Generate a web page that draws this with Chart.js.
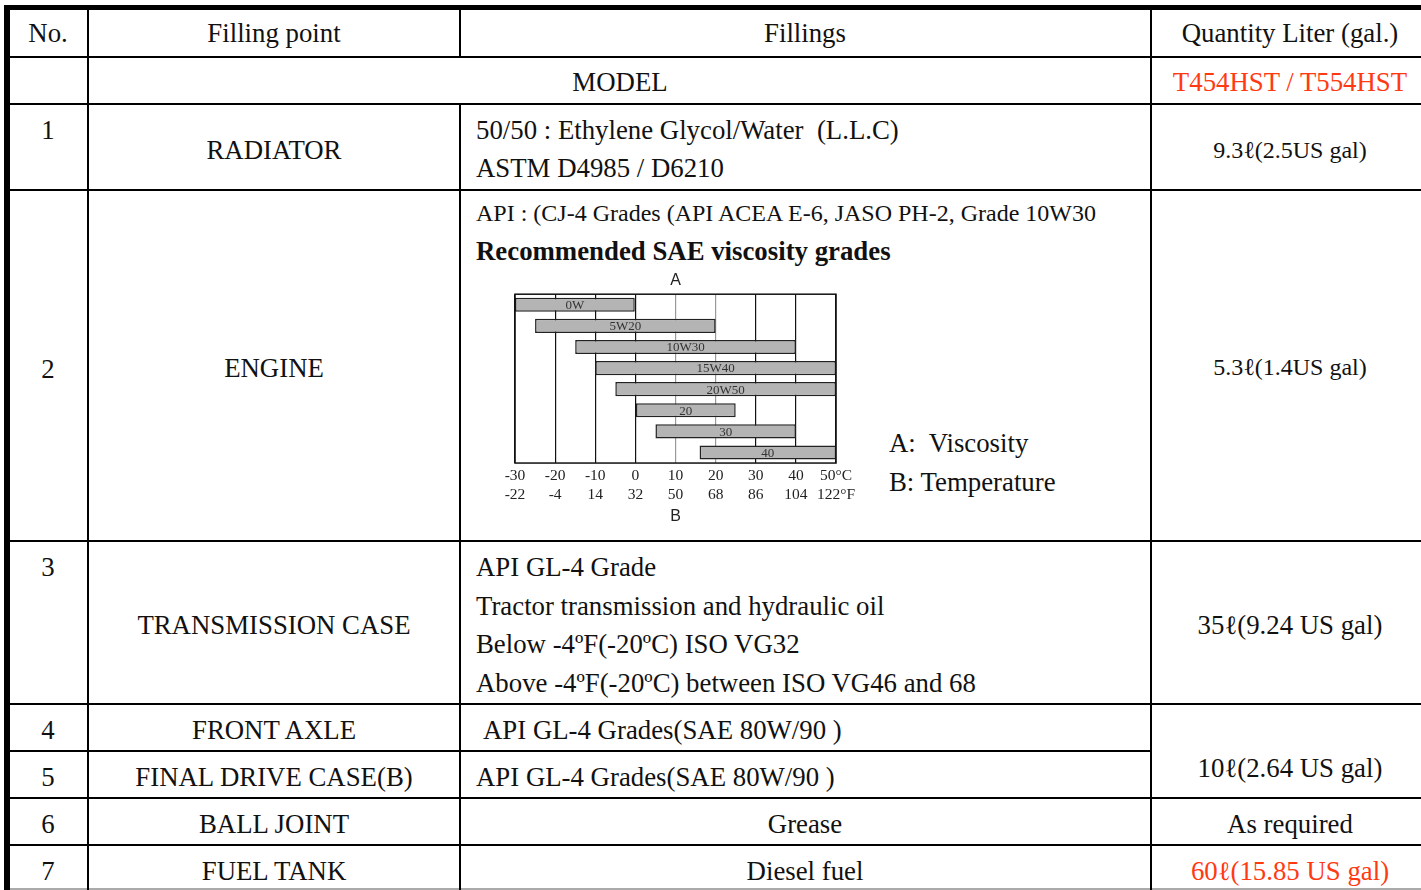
<!DOCTYPE html>
<html>
<head>
<meta charset="utf-8">
<script src="https://cdn.jsdelivr.net/npm/chart.js@4.4.1/dist/chart.umd.min.js"></script>
<style>
  body { margin: 0; background: #fff; width: 1421px; height: 890px; overflow: hidden; position: relative;
         font-family: 'Liberation Serif', 'Times New Roman', serif; color: #111; }
  .ln { position: absolute; background: #000; }
  .t { position: absolute; font-size: 26.8px; line-height: 1; white-space: pre; transform: translate(-50%, -50%); }
  .l { position: absolute; font-size: 26.8px; line-height: 1; white-space: pre; transform: translate(0, -50%); }
  .s { font-size: 24px; }
  .red { color: #ff3a12; }
  .b { font-weight: bold; }
  #box { position: absolute; left: 495px; top: 265px; width: 375px; height: 265px; }
</style>
</head>
<body>
<!-- grid lines of the table -->
<div class="ln" style="left:4px;top:5px;width:1417px;height:5px"></div>
<div class="ln" style="left:4px;top:56px;width:1417px;height:2px"></div>
<div class="ln" style="left:4px;top:103px;width:1417px;height:2px"></div>
<div class="ln" style="left:4px;top:189px;width:1417px;height:2px"></div>
<div class="ln" style="left:4px;top:540px;width:1417px;height:2px"></div>
<div class="ln" style="left:4px;top:703px;width:1417px;height:2px"></div>
<div class="ln" style="left:4px;top:750px;width:1147px;height:2px"></div>
<div class="ln" style="left:4px;top:797px;width:1417px;height:2px"></div>
<div class="ln" style="left:4px;top:844px;width:1417px;height:2px"></div>
<div class="ln" style="left:4px;top:888px;width:1417px;height:2px;background:#aaa"></div>
<div class="ln" style="left:4px;top:5px;width:6px;height:885px"></div>
<div class="ln" style="left:87px;top:5px;width:2px;height:885px"></div>
<div class="ln" style="left:459px;top:5px;width:2px;height:52px"></div>
<div class="ln" style="left:459px;top:104px;width:2px;height:786px"></div>
<div class="ln" style="left:1150px;top:5px;width:2px;height:885px"></div>

<!-- header -->
<div class="t" style="left:48px;top:33px">No.</div>
<div class="t" style="left:274px;top:33px">Filling point</div>
<div class="t" style="left:805px;top:33px">Fillings</div>
<div class="t" style="left:1290px;top:33px">Quantity Liter (gal.)</div>
<div class="t" style="left:620px;top:82px">MODEL</div>
<div class="t red" style="left:1290px;top:82px">T454HST / T554HST</div>

<!-- row 1 -->
<div class="t" style="left:48px;top:130px">1</div>
<div class="t" style="left:274px;top:150px">RADIATOR</div>
<div class="l" style="left:476px;top:130px">50/50 : Ethylene Glycol/Water  (L.L.C)</div>
<div class="l" style="left:476px;top:168px">ASTM D4985 / D6210</div>
<div class="t s" style="left:1290px;top:150px">9.3ℓ(2.5US gal)</div>

<!-- row 2 -->
<div class="t" style="left:48px;top:369px">2</div>
<div class="t" style="left:274px;top:368px">ENGINE</div>
<div class="l s" style="left:476px;top:213px">API : (CJ-4 Grades (API ACEA E-6, JASO PH-2, Grade 10W30</div>
<div class="l b" style="left:476px;top:251px">Recommended SAE viscosity grades</div>
<div id="box"><canvas id="myChart" width="375" height="265"></canvas></div>
<div class="l" style="left:889px;top:443px">A:  Viscosity</div>
<div class="l" style="left:889px;top:482px">B: Temperature</div>
<div class="t s" style="left:1290px;top:367px">5.3ℓ(1.4US gal)</div>

<!-- row 3 -->
<div class="t" style="left:48px;top:567px">3</div>
<div class="t" style="left:274px;top:625px">TRANSMISSION CASE</div>
<div class="l" style="left:476px;top:567px">API GL-4 Grade</div>
<div class="l" style="left:476px;top:606px">Tractor transmission and hydraulic oil</div>
<div class="l" style="left:476px;top:644px">Below -4ºF(-20ºC) ISO VG32</div>
<div class="l" style="left:476px;top:683px">Above -4ºF(-20ºC) between ISO VG46 and 68</div>
<div class="t" style="left:1290px;top:625px">35ℓ(9.24 US gal)</div>

<!-- rows 4 - 7 -->
<div class="t" style="left:48px;top:730px">4</div>
<div class="t" style="left:274px;top:730px">FRONT AXLE</div>
<div class="l" style="left:483px;top:730px">API GL-4 Grades(SAE 80W/90 )</div>
<div class="t" style="left:48px;top:777px">5</div>
<div class="t" style="left:274px;top:777px">FINAL DRIVE CASE(B)</div>
<div class="l" style="left:476px;top:777px">API GL-4 Grades(SAE 80W/90 )</div>
<div class="t" style="left:1290px;top:768px">10ℓ(2.64 US gal)</div>
<div class="t" style="left:48px;top:824px">6</div>
<div class="t" style="left:274px;top:824px">BALL JOINT</div>
<div class="t" style="left:805px;top:824px">Grease</div>
<div class="t" style="left:1290px;top:824px">As required</div>
<div class="t" style="left:48px;top:871px">7</div>
<div class="t" style="left:274px;top:871px">FUEL TANK</div>
<div class="t" style="left:805px;top:871px">Diesel fuel</div>
<div class="t red" style="left:1290px;top:871px">60ℓ(15.85 US gal)</div>

<script>
// SAE grades and their temperature range in °C
const grades = ['0W', '5W20', '10W30', '15W40', '20W50', '20', '30', '40'];
const tempFrom = [-30, -25, -15, -10, -5, 0, 5, 16];
const tempTo = [0, 20, 40, 50, 50, 25, 40, 50];
const celsiusLabels = ['-30', '-20', '-10', '0', '10', '20', '30', '40', '50°C'];
const fahrenheitLabels = ['-22', '-4', '14', '32', '50', '68', '86', '104', '122°F'];

const barLabels = {
    id: 'barLabels',
    afterDatasetsDraw(chart) {
        const c = chart.ctx;
        c.save();
        c.font = '13px "Liberation Serif"';
        c.fillStyle = '#333';
        c.textAlign = 'center';
        c.textBaseline = 'middle';
        chart.getDatasetMeta(0).data.forEach((bar, i) => {
            c.fillText(grades[i], (bar.x + bar.base) / 2, bar.y + 1);
        });
        c.restore();
    }
};

const frame = {
    id: 'frame',
    afterDraw(chart) {
        const a = chart.chartArea;
        const c = chart.ctx;
        c.save();
        c.strokeStyle = '#111';
        c.lineWidth = 1.5;
        c.strokeRect(a.left, a.top, a.right - a.left, a.bottom - a.top);
        c.restore();
    }
};

function CreateChart() {
    const ctx = document.getElementById('myChart');
    new Chart(ctx, {
        type: 'bar',
        data: {
            labels: grades,
            datasets: [{
                data: grades.map((g, i) => [tempFrom[i], tempTo[i]]),
                backgroundColor: '#b4b4b4',
                borderColor: '#222',
                borderWidth: 1.5,
                borderSkipped: false,
                barPercentage: 0.67,
                categoryPercentage: 1
            }]
        },
        options: {
            indexAxis: 'y',
            responsive: false,
            animation: false,
            layout: { padding: { left: 20, right: 34, top: 0, bottom: 0 } },
            scales: {
                x: {
                    min: -30,
                    max: 50,
                    ticks: {
                        stepSize: 10,
                        padding: 3,
                        autoSkip: false,
                        maxRotation: 0,
                        minRotation: 0,
                        color: '#222',
                        font: { family: 'Liberation Serif', size: 15.5, lineHeight: 1.25 },
                        callback: (v, i) => [celsiusLabels[i], fahrenheitLabels[i]]
                    },
                    grid: {
                        drawTicks: false,
                        color: c => (c.tick && (c.tick.value === 10 || c.tick.value === 20)) ? '#999' : '#111',
                        lineWidth: 1.2
                    },
                    border: { display: false },
                    title: {
                        display: true, text: 'B', color: '#222',
                        font: { family: 'Liberation Sans', size: 16 },
                        padding: { top: -1, bottom: 4 }
                    }
                },
                y: { display: false }
            },
            plugins: {
                legend: { display: false },
                tooltip: { enabled: false },
                title: {
                    display: true, text: 'A', color: '#222',
                    font: { family: 'Liberation Sans', size: 16, weight: 'normal' },
                    padding: { top: 6, bottom: 4 }
                }
            }
        },
        plugins: [barLabels, frame]
    });
}

CreateChart();
</script>
</body>
</html>
